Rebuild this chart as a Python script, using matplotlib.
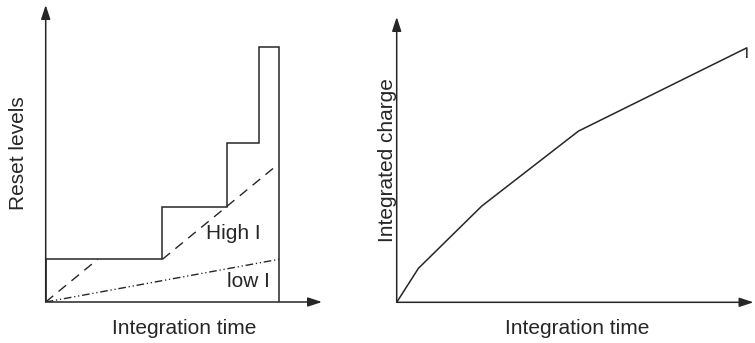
import matplotlib
matplotlib.use("Agg")
import matplotlib.pyplot as plt

plt.rcParams["font.family"] = ["Liberation Sans", "DejaVu Sans"]

INK = "#262626"

# Left panel: reset levels (staircase) and integrated signal for two currents
step_edges = [0.0, 5.0, 7.75, 9.12, 10.0]
reset_levels = [1.83, 4.08, 6.82, 10.9]

high_t1 = [0.0, 2.23]
high_v1 = [0.0, 1.83]
high_t2 = [5.0, 9.74]
high_v2 = [1.83, 5.72]

low_t = [0.0, 10.0]
low_v = [0.0, 1.83]

# Right panel: resulting integrated charge vs. time
charge_t = [0.0, 0.62, 2.43, 5.19, 10.0, 10.0]
charge_q = [0.0, 0.97, 2.75, 4.89, 7.27, 7.0]

W, H = 755, 343
fig = plt.figure(figsize=(W / 100, H / 100), dpi=100)


def px_axes(x0, y0, x1, y1):
    """Axes whose lower-left corner is (x0, y0) and upper-right (x1, y1) in pixels."""
    return fig.add_axes([x0 / W, (H - y0) / H, (x1 - x0) / W, (y0 - y1) / H])


def arrow_axes(ax):
    for s in ax.spines.values():
        s.set_visible(False)
    ax.set_xticks([])
    ax.set_yticks([])
    ax.patch.set_alpha(0)
    style = "-|>,head_length=0.85,head_width=0.28"
    for end in [(1, 0), (0, 1)]:
        ax.annotate("", xy=end, xytext=(0, 0),
                    xycoords="axes fraction", textcoords="axes fraction",
                    arrowprops=dict(arrowstyle=style, color=INK, lw=1.1,
                                    shrinkA=0, shrinkB=0, mutation_scale=10))


# ---- left panel ----
axL = px_axes(45.7, 302.0, 322.0, 5.0)
axL.set_xlim(0, 11.83)
axL.set_ylim(0, 12.71)
arrow_axes(axL)

axL.stairs(reset_levels, step_edges, baseline=0, fill=False,
           color=INK, lw=1.1)
axL.plot(high_t1, high_v1, color=INK, lw=1.0, dashes=(7, 5),
         solid_capstyle="butt", dash_capstyle="butt")
axL.plot(high_t2, high_v2, color=INK, lw=1.0, dashes=(7, 5),
         dash_capstyle="butt")
axL.plot(low_t, low_v, color=INK, lw=1.0,
         dashes=(5.5, 2.0, 0.9, 2.0, 0.9, 2.0), dash_capstyle="butt")

axL.text(8.03, 2.68, "High I", fontsize=15, color=INK,
         ha="center", va="baseline")
axL.text(8.68, 0.655, "low I", fontsize=15, color=INK,
         ha="center", va="baseline")

# ---- right panel ----
axR = px_axes(396.7, 302.3, 753.5, 17.0)
axR.set_xlim(0, 10.19)
axR.set_ylim(0, 8.15)
arrow_axes(axR)

axR.plot(charge_t, charge_q, color=INK, lw=1.1)

# ---- axis titles ----
fig.text(184 / W, (H - 334.3) / H, "Integration time", fontsize=15,
         color=INK, ha="center", va="baseline")
fig.text(577.5 / W, (H - 334.3) / H, "Integration time", fontsize=15,
         color=INK, ha="center", va="baseline")
fig.text(24.0 / W, (H - 153.3) / H, "Reset levels", fontsize=15, color=INK,
         ha="center", va="baseline", rotation=90, rotation_mode="anchor")
fig.text(392.7 / W, (H - 160.0) / H, "Integrated charge", fontsize=15,
         color=INK, ha="center", va="baseline", rotation=90,
         rotation_mode="anchor")

fig.savefig("out.png", dpi=100, facecolor="white")
